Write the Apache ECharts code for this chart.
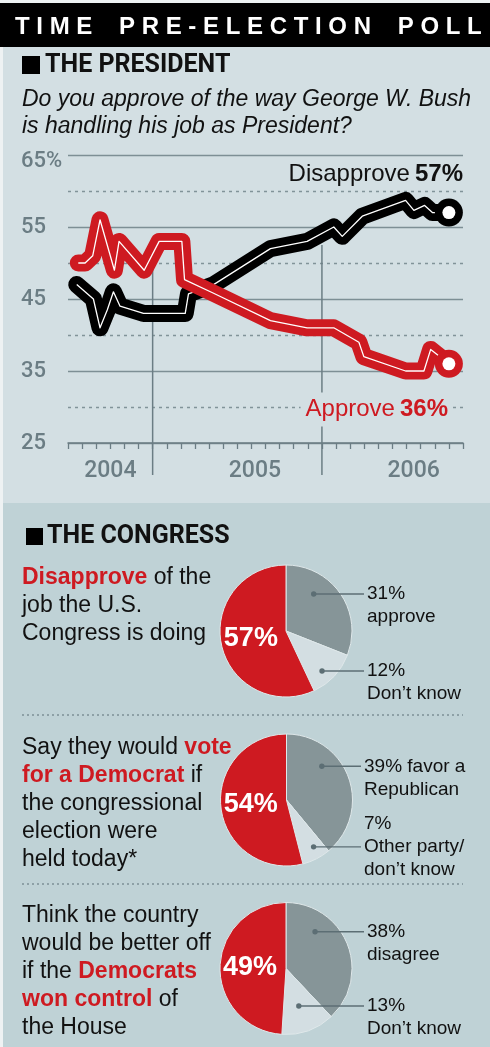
<!DOCTYPE html>
<html><head><meta charset="utf-8">
<script src="https://cdn.jsdelivr.net/npm/echarts@6/dist/echarts.min.js"></script>
<style>html,body{margin:0;padding:0;background:#fff}#c{width:490px;height:1047px}</style>
</head><body><div id="c"></div>
<script>
// ---------------- DATA ----------------
// x = months since 1 Jan 2004
const disapproveMonths = [6.62, 7.80, 8.27, 8.79, 9.22, 9.69, 11.35, 14.31, 14.54, 16.32, 20.35, 22.95, 24.84, 25.44, 26.86, 29.93, 30.52, 31.28, 31.83, 33.0];
const disapproveValues = [47, 45, 41, 43.5, 46, 44, 43, 43, 45.7, 47, 52, 53, 55, 53.7, 56.5, 58.7, 57.3, 58, 57, 57];
const approveMonths = [6.73, 7.21, 7.75, 8.27, 9.29, 9.62, 11.40, 12.46, 14.07, 14.26, 16.32, 20.35, 22.95, 24.84, 26.62, 26.97, 29.93, 31.23, 31.71, 33.0];
const approveValues = [50, 50, 51, 56, 49, 53, 49, 53, 53, 47.7, 45.8, 42, 41, 41, 39, 37, 35, 35, 38, 36];

const yearLabels = ['2004', '2005', '2006'];
const yearLabelMonth = [9, 19.25, 30.5];
const yearStartMonths = [12, 24];
const dividerTopValues = [50, 52.5];

const congressNames = ['approve', 'Don’t know', 'Disapprove'];
const congressValues = [31, 12, 57];
const voteNames = ['favor a\nRepublican', 'Other party/\ndon’t know', 'vote for a Democrat'];
const voteValues = [39, 7, 54];
const controlNames = ['disagree', 'Don’t know', 'Democrats won control'];
const controlValues = [38, 13, 49];

// ---------------- STYLE ----------------
const RED = '#ce1a21', BLACK = '#000', GRAY = '#869598', LIGHT = '#d3dee2';
const AXIS = '#6b7d84', TXT = '#111';
const BG1 = '#d3dfe3', BG2 = '#bfd2d6';
const SANS = 'Liberation Sans', HEAD = 'Roboto';
const LEADER = '#5c6e74';
const LINE_W = 17;

const chart = echarts.init(document.getElementById('c'), null, {renderer: 'canvas', width: 490, height: 1047});

const pts = (xs, ys) => xs.map((x, i) => [x, ys[i]]);
const last = a => a[a.length - 1];

// ---------------- PIES ----------------
const R = 66;
const pies = [
  {values: congressValues, names: congressNames, cx: 286, cy: 631, labelX: 367, dots: [[0.33, 0.70], [0.61, 0.815]], lead: [0, 0], inline: [false, false]},
  {values: voteValues, names: voteNames, cx: 286.5, cy: 800, labelX: 364, dots: [[0.33, 0.74], [0.38, 0.82]], lead: [0, 1], inline: [true, false]},
  {values: controlValues, names: controlNames, cx: 286, cy: 968.5, labelX: 367, dots: [[0.28, 0.71], [0.52, 0.60]], lead: [0, 0], inline: [false, false]}
];
const sliceColors = [GRAY, LIGHT, RED];
const LH = 23;
const leaderGraphics = [];
pies.forEach(p => {
  const total = p.values.reduce((a, b) => a + b, 0);
  let acc = 0;
  p.dotPos = p.values.map((v, i) => {
    const start = acc / total * 360, span = v / total * 360;
    acc += v;
    if (i > 1) return null;
    const th = (start + p.dots[i][0] * span) * Math.PI / 180;
    const r = p.dots[i][1] * R;
    return [p.cx + r * Math.sin(th), p.cy - r * Math.cos(th)];
  });
  p.dotPos.forEach(d => {
    if (!d) return;
    leaderGraphics.push({type: 'line', shape: {x1: d[0], y1: d[1], x2: p.labelX - 3, y2: d[1]}, style: {stroke: LEADER, lineWidth: 1.4}, z: 20, silent: true});
    leaderGraphics.push({type: 'circle', shape: {cx: d[0], cy: d[1], r: 2.7}, style: {fill: LEADER}, z: 21, silent: true});
  });
});

const pieSeries = pies.map(p => ({
  type: 'pie', center: [p.cx, p.cy], radius: R, startAngle: 90, clockwise: true,
  avoidLabelOverlap: false, silent: true, z: 3,
  itemStyle: {borderColor: '#dfe8ea', borderWidth: 1},
  labelLine: {show: false},
  data: p.values.map((v, i) => ({
    value: v, name: p.names[i],
    itemStyle: {color: sliceColors[i]},
    label: i === 2 ? {
      show: true, position: 'inside', formatter: v + '%', color: '#fff',
      fontFamily: SANS, fontWeight: 'bold', fontSize: 27
    } : {
      show: true, position: 'outside',
      formatter: p.inline[i] ? (v + '% ' + p.names[i]) : (v + '%\n' + p.names[i]),
      color: TXT, fontFamily: SANS, fontWeight: 'normal', fontSize: 19, lineHeight: LH, align: 'left'
    },
    labelLine: {show: false}
  })),
  labelLayout: params => {
    const i = params.dataIndex;
    if (i === 2) return {};
    const d = p.dotPos[i];
    return {x: p.labelX, y: d[1] - LH * (p.lead[i] + 0.5), align: 'left', verticalAlign: 'top'};
  }
}));

// ---------------- TITLES / TEXT ----------------
const redRich = {r: {color: RED, fontWeight: 'bold', fontFamily: SANS, fontSize: 23, lineHeight: 28}};
const bodyStyle = {fontFamily: SANS, fontWeight: 'normal', fontSize: 23, color: TXT, lineHeight: 28, rich: redRich};
const titles = [
  {text: 'T I M E    P R E - E L E C T I O N    P O L L', left: 15, top: 15, padding: 0,
   textStyle: {color: '#fff', fontFamily: SANS, fontWeight: 'bold', fontSize: 24, lineHeight: 24}},
  {text: 'THE PRESIDENT', left: 45, top: 53.5, padding: 0,
   textStyle: {color: TXT, fontFamily: HEAD, fontWeight: 'bold', fontSize: 25, lineHeight: 25}},
  {text: 'Do you approve of the way George W. Bush\nis handling his job as President?', left: 22, top: 86, padding: 0,
   textStyle: {color: TXT, fontFamily: SANS, fontStyle: 'italic', fontWeight: 'normal', fontSize: 23, lineHeight: 27}},
  {text: '{n|Disapprove} {b|' + last(disapproveValues) + '%}', right: 27, top: 162, padding: 0,
   textStyle: {fontWeight: 'normal', rich: {n: {color: TXT, fontFamily: SANS, fontWeight: 'normal', fontSize: 24, lineHeight: 24}, b: {color: TXT, fontFamily: SANS, fontWeight: 'bold', fontSize: 24, lineHeight: 24}}}},
  {text: '{n|Approve} {b|' + last(approveValues) + '%}', right: 37, top: 392.5, padding: [5, 5], backgroundColor: BG1,
   textStyle: {fontWeight: 'normal', rich: {n: {color: RED, fontFamily: SANS, fontWeight: 'normal', fontSize: 24, lineHeight: 24}, b: {color: RED, fontFamily: SANS, fontWeight: 'bold', fontSize: 24, lineHeight: 24}}}},
  {text: 'THE CONGRESS', left: 47, top: 524.5, padding: 0,
   textStyle: {color: TXT, fontFamily: HEAD, fontWeight: 'bold', fontSize: 25, lineHeight: 25}},
  {text: '{r|Disapprove} of the\njob the U.S.\nCongress is doing', left: 22, top: 564, padding: 0, textStyle: bodyStyle},
  {text: 'Say they would {r|vote}\n{r|for a Democrat} if\nthe congressional\nelection were\nheld today*', left: 22, top: 734, padding: 0, textStyle: bodyStyle},
  {text: 'Think the country\nwould be better off\nif the {r|Democrats}\n{r|won control} of\nthe House', left: 22, top: 902, padding: 0, textStyle: bodyStyle}
];

const thickLine = (xs, ys, c, z) => ({type: 'line', data: pts(xs, ys), symbol: 'none', silent: true, z: z,
  lineStyle: {color: c, width: LINE_W, cap: 'round', join: 'round', opacity: 1}, emphasis: {disabled: true}});
const thinLine = (xs, ys, z) => ({type: 'line', data: pts(xs, ys), symbol: 'none', silent: true, z: z,
  lineStyle: {color: '#fff', width: 1.3, join: 'round', opacity: 1}, emphasis: {disabled: true}});
const endDot = (xs, ys, size, color, z) => ({type: 'scatter', data: [[last(xs), last(ys)]], symbol: 'circle', symbolSize: size,
  silent: true, z: z, itemStyle: {color: color, opacity: 1}, emphasis: {disabled: true}});

// ---------------- OPTION ----------------
const option = {
  animation: false,
  backgroundColor: '#eef2f3',
  title: titles,
  graphic: [
    {type: 'rect', shape: {x: 3, y: 47, width: 487, height: 456}, style: {fill: BG1}, z: -10, silent: true},
    {type: 'rect', shape: {x: 3, y: 503, width: 487, height: 544}, style: {fill: BG2}, z: -10, silent: true},
    {type: 'rect', shape: {x: 0, y: 3, width: 490, height: 44}, style: {fill: '#000'}, z: -9, silent: true},
    {type: 'rect', shape: {x: 22, y: 56, width: 18, height: 18}, style: {fill: '#000'}, z: 10, silent: true},
    {type: 'rect', shape: {x: 26, y: 528, width: 17, height: 17}, style: {fill: '#000'}, z: 10, silent: true},
    {type: 'line', shape: {x1: 22, y1: 715, x2: 463, y2: 715}, style: {stroke: '#7d9096', lineWidth: 1.5, lineDash: [2, 3]}, z: 10, silent: true},
    {type: 'line', shape: {x1: 22, y1: 884, x2: 463, y2: 884}, style: {stroke: '#7d9096', lineWidth: 1.5, lineDash: [2, 3]}, z: 10, silent: true}
  ].concat(leaderGraphics),
  grid: {left: 68, right: 27, top: 155, height: 288, containLabel: false},
  xAxis: [
    {type: 'value', min: 6, max: 34, interval: 1, position: 'bottom',
     axisLine: {show: true, onZero: false, lineStyle: {color: AXIS, width: 1.5}},
     axisTick: {show: true, inside: false, length: 6, lineStyle: {color: AXIS, width: 1.3}},
     axisLabel: {show: false}, splitLine: {show: false}},
    {type: 'value', min: 6, max: 34, interval: 0.25, position: 'bottom',
     axisLine: {show: false, onZero: false}, axisTick: {show: false}, splitLine: {show: false},
     axisLabel: {show: true, margin: 17, color: AXIS, fontFamily: 'Roboto', fontWeight: 500, fontSize: 23,
       formatter: v => { const i = yearLabelMonth.indexOf(v); return i >= 0 ? yearLabels[i] : ''; }}}
  ],
  yAxis: {
    type: 'value', min: 25, max: 65, interval: 10,
    axisLine: {show: false}, axisTick: {show: false},
    splitLine: {show: true, lineStyle: {color: '#7d8f95', width: 1.3}},
    minorTick: {show: false, splitNumber: 2},
    minorSplitLine: {show: true, lineStyle: {color: '#819399', width: 1.3, type: [3, 4]}},
    axisLabel: {
      margin: 47, align: 'left', color: AXIS, fontFamily: 'Roboto', fontWeight: 500, fontSize: 22,
      formatter: v => v === 65 ? '{t|' + v + '%}' : String(v),
      rich: {t: {color: AXIS, fontFamily: 'Roboto', fontWeight: 500, fontSize: 22, padding: [12, 0, 0, 0]}}
    }
  },
  series: [
    {type: 'custom', silent: true, clip: false, z: 1,
     data: yearStartMonths.map((m, i) => [m, dividerTopValues[i]]),
     renderItem: (params, api) => {
       const top = api.coord([api.value(0), api.value(1)]);
       const base = api.coord([api.value(0), 25]);
       return {type: 'line', shape: {x1: top[0], y1: top[1], x2: base[0], y2: base[1] + 32},
               style: {stroke: AXIS, lineWidth: 1.5}};
     }},
    thickLine(disapproveMonths, disapproveValues, BLACK, 2),
    thinLine(disapproveMonths, disapproveValues, 3),
    endDot(disapproveMonths, disapproveValues, 28, BLACK, 4),
    endDot(disapproveMonths, disapproveValues, 13, '#fff', 5),
    thickLine(approveMonths, approveValues, RED, 6),
    thinLine(approveMonths, approveValues, 7),
    endDot(approveMonths, approveValues, 28, RED, 8),
    endDot(approveMonths, approveValues, 13, '#fff', 9)
  ].concat(pieSeries)
};
chart.setOption(option);
</script></body></html>
